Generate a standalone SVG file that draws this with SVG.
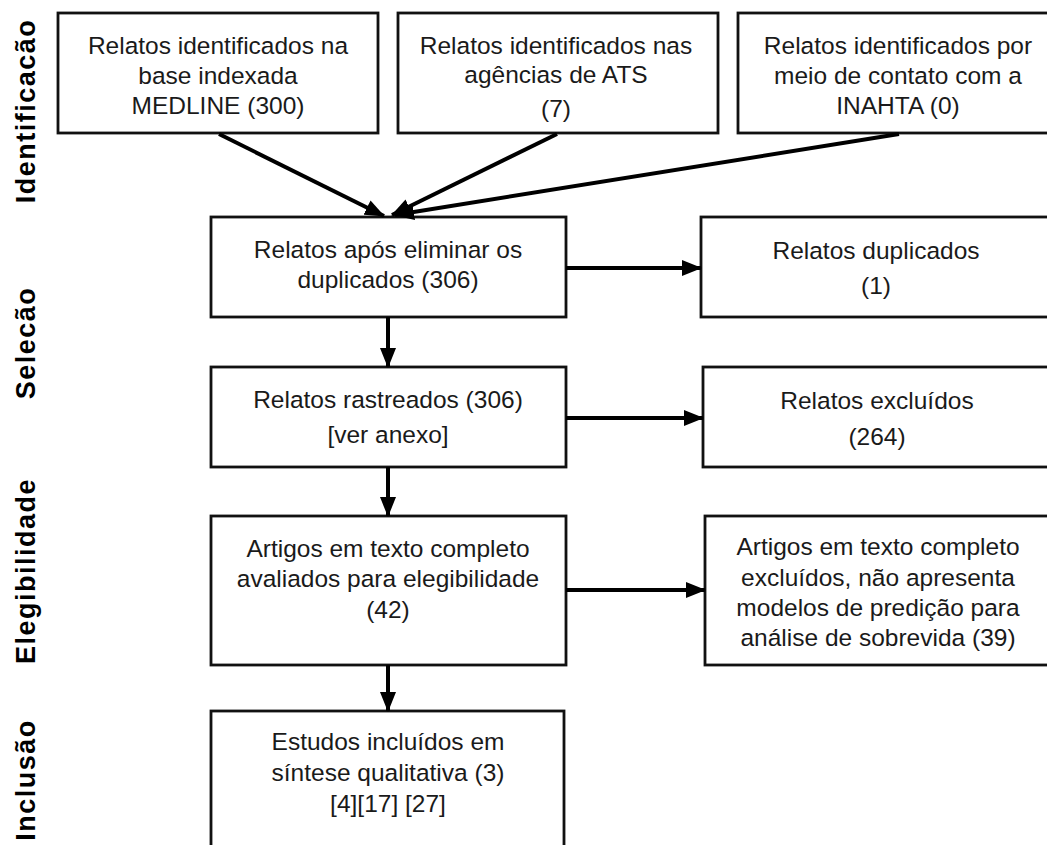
<svg xmlns="http://www.w3.org/2000/svg" width="1047" height="845" viewBox="0 0 1047 845">
<defs>
<marker id="ah" markerUnits="userSpaceOnUse" markerWidth="20" markerHeight="16" refX="19" refY="8" orient="auto">
<path d="M0,0 L20,8 L0,16 Z" fill="#000"/>
</marker>
<style>
.box{fill:#fff;stroke:#111;stroke-width:2.8}
.t{font-family:"Liberation Sans",Arial,sans-serif;font-size:24.5px;fill:#1a1a1a;text-anchor:middle}
.lab{font-family:"Liberation Sans",Arial,sans-serif;font-size:27px;font-weight:bold;fill:#000;text-anchor:middle;letter-spacing:1.5px}
.c{stroke:#000;stroke-width:4;fill:none;marker-end:url(#ah)}
</style>
</defs>
<rect width="1047" height="845" fill="#fff"/>
<g id="labels">
<text class="lab" transform="translate(35,111) rotate(-90)">Identificacão</text>
<text class="lab" transform="translate(35,343) rotate(-90)">Selecão</text>
<text class="lab" transform="translate(35,571) rotate(-90)">Elegibilidade</text>
<text class="lab" transform="translate(35,780) rotate(-90)">Inclusão</text>
</g>
<g id="n1"><rect class="box" x="58" y="13" width="320" height="120"/>
<text class="t" x="218" y="54">Relatos identificados na</text>
<text class="t" x="218" y="84">base indexada</text>
<text class="t" x="218" y="114">MEDLINE (300)</text></g>
<g id="n2"><rect class="box" x="398" y="13" width="320" height="120"/>
<text class="t" x="556" y="54">Relatos identificados nas</text>
<text class="t" x="556" y="83">agências de ATS</text>
<text class="t" x="556" y="117">(7)</text></g>
<g id="n3"><rect class="box" x="738" y="13" width="320" height="120"/>
<text class="t" x="898" y="54">Relatos identificados por</text>
<text class="t" x="898" y="84">meio de contato com a</text>
<text class="t" x="898" y="114">INAHTA (0)</text></g>
<g id="n4"><rect class="box" x="211" y="217" width="355" height="100"/>
<text class="t" x="388" y="258">Relatos após eliminar os</text>
<text class="t" x="388" y="288">duplicados (306)</text></g>
<g id="n5"><rect class="box" x="701" y="217" width="360" height="100"/>
<text class="t" x="876" y="259">Relatos duplicados</text>
<text class="t" x="876" y="294">(1)</text></g>
<g id="n6"><rect class="box" x="211" y="367" width="355" height="100"/>
<text class="t" x="388" y="408">Relatos rastreados (306)</text>
<text class="t" x="388" y="443">[ver anexo]</text></g>
<g id="n7"><rect class="box" x="703" y="367" width="360" height="100"/>
<text class="t" x="877" y="409">Relatos excluídos</text>
<text class="t" x="877" y="445">(264)</text></g>
<g id="n8"><rect class="box" x="211" y="516" width="355" height="149"/>
<text class="t" x="388" y="557">Artigos em texto completo</text>
<text class="t" x="388" y="587">avaliados para elegibilidade</text>
<text class="t" x="388" y="618">(42)</text></g>
<g id="n9"><rect class="box" x="705" y="516" width="360" height="149"/>
<text class="t" x="878" y="555">Artigos em texto completo</text>
<text class="t" x="878" y="586">excluídos, não apresenta</text>
<text class="t" x="878" y="616">modelos de predição para</text>
<text class="t" x="878" y="646">análise de sobrevida (39)</text></g>
<g id="n10"><rect class="box" x="211" y="711" width="353" height="150"/>
<text class="t" x="388" y="750">Estudos incluídos em</text>
<text class="t" x="388" y="781">síntese qualitativa (3)</text>
<text class="t" x="388" y="812">[4][17] [27]</text></g>
<g id="connectors">
<line class="c" x1="219" y1="134" x2="384" y2="216"/>
<line class="c" x1="557" y1="134" x2="392" y2="215"/>
<line class="c" x1="899" y1="134" x2="395" y2="215"/>
<line class="c" x1="566" y1="268" x2="701" y2="268"/>
<line class="c" x1="566" y1="418" x2="703" y2="418"/>
<line class="c" x1="566" y1="590" x2="705" y2="590"/>
<line class="c" x1="388" y1="317" x2="388" y2="367"/>
<line class="c" x1="388" y1="467" x2="388" y2="516"/>
<line class="c" x1="388" y1="665" x2="388" y2="711"/>
</g>
</svg>
